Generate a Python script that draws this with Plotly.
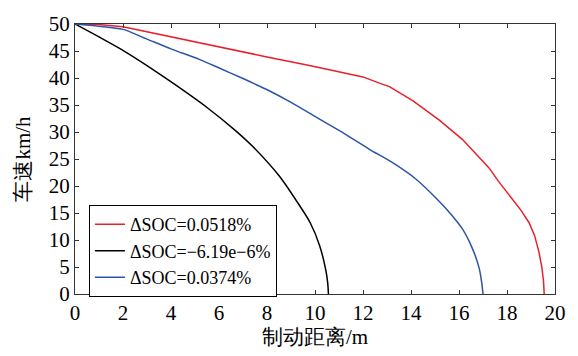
import plotly.graph_objects as go

# Data
red_x = [0, 1, 2, 4, 6, 8, 9.77, 11, 12, 12.68, 13.1, 14.07, 15.18, 16.15, 16.6, 17.26, 17.64, 18.22, 18.6, 18.92, 19.15, 19.33, 19.45, 19.52, 19.55]
red_y = [50, 49.9, 49.5, 47.6, 45.8, 43.9, 42.3, 41.1, 40.2, 39.05, 38.4, 35.8, 32.2, 28.6, 26.4, 23.3, 20.9, 17.6, 15.4, 13.2, 10.8, 7.8, 5.0, 2.5, 0]

black_x = [0, 1, 2.08, 3, 4.16, 5.54, 6.65, 7.41, 8.52, 9.22, 9.8, 10.19, 10.46, 10.53, 10.56]
black_y = [50, 47.6, 44.9, 42.3, 38.8, 34.4, 30.4, 27.3, 21.8, 17.3, 13.2, 9.0, 4.2, 2.0, 0]

blue_x = [0, 1, 2, 3, 4, 5.2, 6.03, 7, 8.11, 9, 10.19, 11, 12.27, 13.2, 14.2, 15.1, 15.7, 16.15, 16.56, 16.84, 16.95, 17.0]
blue_y = [50, 49.6, 49.0, 47.2, 45.4, 43.4, 41.8, 39.9, 37.6, 35.5, 32.4, 30.3, 26.8, 24.4, 21.3, 17.5, 14.6, 12.0, 8.4, 4.8, 2.0, 0]

names = ["ΔSOC=0.0518%", "ΔSOC=−6.19e−6%", "ΔSOC=0.0374%"]
colors = ["#e8202a", "#000000", "#2a55a8"]
shapes = ["linear", "spline", "spline"]

x_ticks = [0, 2, 4, 6, 8, 10, 12, 14, 16, 18, 20]
y_ticks = [0, 5, 10, 15, 20, 25, 30, 35, 40, 45, 50]

FONT = "serif"

fig = go.Figure()
for xs, ys, n, c, s in [(red_x, red_y, names[0], colors[0], shapes[0]),
                        (black_x, black_y, names[1], colors[1], shapes[1]),
                        (blue_x, blue_y, names[2], colors[2], shapes[2])]:
    fig.add_trace(go.Scatter(x=xs, y=ys, mode="lines", name=n,
                             line=dict(color=c, width=1.5, shape=s, smoothing=0.8)))

axis_common = dict(
    showgrid=False, zeroline=False, showline=True, linecolor="#333333",
    linewidth=1, mirror="ticks", ticks="inside", ticklen=4,
    tickcolor="#333333", tickfont=dict(family=FONT, size=21, color="black"),
)

fig.update_layout(
    width=578, height=356,
    margin=dict(l=75, r=22, t=17, b=59),
    paper_bgcolor="white", plot_bgcolor="white",
    font=dict(family=FONT, size=21, color="black"),
    xaxis=dict(range=[0, 20], tickvals=x_ticks, ticktext=[str(v) for v in x_ticks],
               title=dict(text="制动距离/m", standoff=4,
                          font=dict(family=FONT, size=21)),
               **axis_common),
    yaxis=dict(range=[0, 50], tickvals=y_ticks, ticktext=[str(v) for v in y_ticks],
               title=dict(text="车速km/h", standoff=12,
                          font=dict(family=FONT, size=21)),
               **axis_common),
    legend=dict(x=0.029, y=0.329, xanchor="left", yanchor="top",
                bgcolor="white", bordercolor="black", borderwidth=1,
                font=dict(family=FONT, size=18), itemwidth=30,
                tracegroupgap=0),
    showlegend=True,
)

fig.write_html("out.html")
